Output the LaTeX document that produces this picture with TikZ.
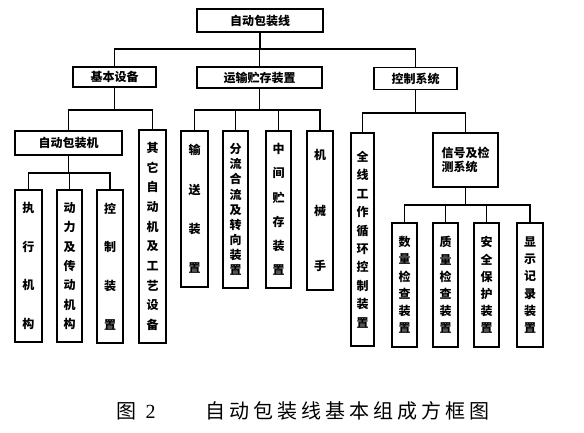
\documentclass[tikz,border=0pt]{standalone}
\usepackage{fontspec}
\newfontfamily\cjk{Noto Sans CJK SC}
\newfontfamily\capfont{Noto Sans CJK SC}[LetterSpace=20]
\newfontfamily\capnum{Liberation Serif}
\usepackage{tikz}
\usetikzlibrary{positioning,calc}
\newcommand{\vf}{\par\vfill}
\newcommand{\vstack}[2]{\parbox[c][#1][s]{14pt}{\centering #2}}

\begin{document}
\begin{tikzpicture}
[x=1pt,y=-1pt,line width=1.1pt,
 hbox/.style = {draw, rectangle, inner sep=0pt, font=\cjk\bfseries\fontsize{12}{14}\selectfont},
 vbox/.style = {draw, rectangle, inner sep=0pt, font=\cjk\bfseries\fontsize{12}{14}\selectfont},]
\useasboundingbox (0,0) rectangle (584,433);
% top levels
\node (top) at (260,20.5)[hbox,minimum width=126,minimum height=23] {自动包装线};
\node (jb) at (114.5,77)[hbox,minimum width=83,minimum height=20] {基本设备};
\node (ys) at (259.5,77.5)[hbox,minimum width=125,minimum height=21] {运输贮存装置};
\node (kz) at (415.5,78.5)[hbox,minimum width=83,minimum height=22] {控制系统};
% basic equipment
\node (zdj) at (68.5,143)[hbox,minimum width=107,minimum height=24] {自动包装机};
\node (qt) at (152.5,236.5)[vbox,minimum width=27,minimum height=213] {\vstack{187pt}{其\vf 它\vf 自\vf 动\vf 机\vf 及\vf 工\vf 艺\vf 设\vf 备}};
\node (zx) at (28.5,266)[vbox,minimum width=27,minimum height=152] {\vstack{126pt}{执\vf 行\vf 机\vf 构}};
\node (dl) at (69.5,266)[vbox,minimum width=25,minimum height=152] {\vstack{126pt}{动\vf 力\vf 及\vf 传\vf 动\vf 机\vf 构}};
\node (kzzz) at (110,266.5)[vbox,minimum width=26,minimum height=153] {\vstack{126pt}{控\vf 制\vf 装\vf 置}};
% transport and storage
\node (ss) at (194.5,209)[vbox,minimum width=27,minimum height=156] {\vstack{128pt}{输\vf 送\vf 装\vf 置}};
\node (fl) at (235.5,209.5)[vbox,minimum width=25,minimum height=157] {\vstack{131pt}{分\vf 流\vf 合\vf 流\vf 及\vf 转\vf 向\vf 装\vf 置}};
\node (zj) at (278.5,209.5)[vbox,minimum width=25,minimum height=157] {\vstack{131pt}{中\vf 间\vf 贮\vf 存\vf 装\vf 置}};
\node (jx) at (320,210.5)[vbox,minimum width=26,minimum height=159] {\vstack{122pt}{机\vf 械\vf 手}};
% control system
\node (qx) at (362.5,239.5)[vbox,minimum width=23,minimum height=213] {\vstack{176pt}{全\vf 线\vf 工\vf 作\vf 循\vf 环\vf 控\vf 制\vf 装\vf 置}};
\node (xh) at (465.5,160)[hbox,minimum width=65,minimum height=54,align=left] {\fontsize{12}{24}\selectfont 信号及检\\测系统\hspace{13pt}};
\node (sl) at (404.5,285)[vbox,minimum width=25,minimum height=124] {\vstack{96pt}{数\vf 量\vf 检\vf 查\vf 装\vf 置}};
\node (zl) at (445.5,285)[vbox,minimum width=25,minimum height=124] {\vstack{96pt}{质\vf 量\vf 检\vf 查\vf 装\vf 置}};
\node (aq) at (486.5,285)[vbox,minimum width=25,minimum height=124] {\vstack{96pt}{安\vf 全\vf 保\vf 护\vf 装\vf 置}};
\node (xs) at (530,285)[vbox,minimum width=26,minimum height=124] {\vstack{96pt}{显\vf 示\vf 记\vf 录\vf 装\vf 置}};
% bus levels
\coordinate (b1) at (0,49);
\coordinate (b2) at (0,110);
\coordinate (b3) at (0,113);
\coordinate (b4) at (0,173);
\coordinate (b5) at (0,205);
\draw (top.south)--(top.south |- b1);
\draw (jb.north) |- (kz.north |- b1)--(kz.north);
\draw (ys.north)--(ys.north |- b1);
\draw (jb.south)--(jb.south |- b2);
\draw (zdj.north) |- (qt.north |- b2)--(qt.north);
\draw (ys.south)--(ys.south |- b2);
\draw (ss.north) |- (jx.north |- b2)--(jx.north);
\draw (fl.north)--(fl.north |- b2);
\draw (zj.north)--(zj.north |- b2);
\draw (kz.south)--(kz.south |- b3);
\draw (qx.north) |- (xh.north |- b3)--(xh.north);
\draw (zdj.south)--(zdj.south |- b4);
\draw (zx.north) |- (kzzz.north |- b4)--(kzzz.north);
\draw (dl.north)--(dl.north |- b4);
\draw (xh.south)--(xh.south |- b5);
\draw (sl.north) |- (xs.north |- b5)--(xs.north);
\draw (zl.north)--(zl.north |- b5);
\draw (aq.north)--(aq.north |- b5);
% caption
\node (fig) at (116,411)[anchor=west,inner sep=0pt] {\capfont\fontsize{20}{20}\selectfont 图\hspace{9pt}{\capnum 2}};
\node (title) at (205,411)[anchor=west,inner sep=0pt] {\capfont\fontsize{20}{20}\selectfont 自动包装线基本组成方框图};
\end{tikzpicture}
\end{document}
